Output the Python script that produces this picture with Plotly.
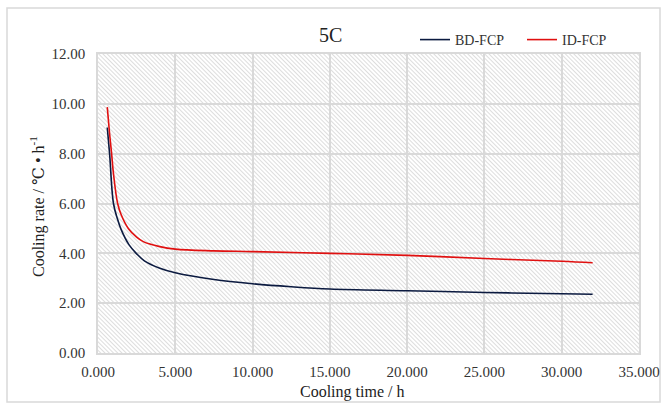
import base64
import plotly.graph_objects as go

# Data
bd_time = [0.6, 0.75, 1.0, 1.25, 1.5, 2.0, 2.5, 3.0, 4.0, 5.0, 7.5, 10.0, 12.5, 15.0, 20.0, 25.0, 30.0, 32.0]
bd_rate = [9.05, 8.0, 6.0, 5.4, 4.95, 4.35, 3.98, 3.70, 3.40, 3.22, 2.95, 2.78, 2.66, 2.57, 2.50, 2.43, 2.38, 2.36]

id_time = [0.6, 0.75, 0.88, 1.0, 1.27, 1.5, 1.96, 2.5, 2.93, 4.0, 5.0, 7.5, 10.0, 15.0, 20.0, 25.0, 30.0, 32.0]
id_rate = [9.87, 8.8, 8.0, 7.2, 6.0, 5.55, 5.0, 4.65, 4.47, 4.27, 4.17, 4.1, 4.07, 4.0, 3.92, 3.79, 3.68, 3.62]

x_range = [0, 35]
y_range = [0, 12]
x_ticks = [0, 5, 10, 15, 20, 25, 30, 35]
x_ticktext = ["0.000", "5.000", "10.000", "15.000", "20.000", "25.000", "30.000", "35.000"]
y_ticks = [0, 2, 4, 6, 8, 10, 12]
y_ticktext = ["0.00", "2.00", "4.00", "6.00", "8.00", "10.00", "12.00"]

FONT = "Liberation Serif, DejaVu Serif, serif"

W, H = 665, 409
L, R, T, B = 98, 26, 54, 56
pw, ph = W - L - R, H - T - B

def px(xp):
    return (xp - L) / pw

def py(yp):
    return (H - B - yp) / ph

# hatch background as an SVG image (drawn below gridlines)
svg = (
    f'<svg xmlns="http://www.w3.org/2000/svg" width="{pw}" height="{ph}">'
    '<defs><pattern id="p" width="3" height="3" patternUnits="userSpaceOnUse" '
    'patternTransform="rotate(-45)">'
    '<line x1="0.5" y1="0" x2="0.5" y2="3" stroke="#d4d4d4" stroke-width="0.8"/>'
    '</pattern></defs>'
    f'<rect width="{pw}" height="{ph}" fill="white"/>'
    f'<rect width="{pw}" height="{ph}" fill="url(#p)"/>'
    '</svg>'
)
svg_uri = "data:image/svg+xml;base64," + base64.b64encode(svg.encode()).decode()

fig = go.Figure()

fig.add_trace(go.Scatter(x=bd_time, y=bd_rate, mode="lines", name="BD-FCP",
                         line=dict(color="#0b1a40", width=1.6, shape="spline", smoothing=1.0)))
fig.add_trace(go.Scatter(x=id_time, y=id_rate, mode="lines", name="ID-FCP",
                         line=dict(color="#e01010", width=1.6, shape="spline", smoothing=1.0)))

fig.update_layout(
    width=W, height=H,
    margin=dict(l=L, r=R, t=T, b=B, autoexpand=False),
    paper_bgcolor="white", plot_bgcolor="rgba(0,0,0,0)",
    font=dict(family=FONT, size=14, color="#333333"),
    showlegend=True,
    legend=dict(orientation="h", x=px(415), y=py(40), xanchor="left", yanchor="middle",
                bgcolor="rgba(0,0,0,0)", font=dict(family=FONT, size=14, color="#333333"),
                itemwidth=30, traceorder="normal", entrywidth=62),
    xaxis=dict(range=x_range, tickvals=x_ticks, ticktext=x_ticktext,
               showgrid=True, gridcolor="#d9d9d9", gridwidth=1.5,
               showline=True, linecolor="#d9d9d9", linewidth=1.5, mirror=True,
               zeroline=False, ticks="", ticklabelstandoff=4,
               tickfont=dict(family=FONT, size=15, color="#333333")),
    yaxis=dict(range=y_range, tickvals=y_ticks, ticktext=y_ticktext,
               showgrid=True, gridcolor="#d9d9d9", gridwidth=1.5,
               showline=True, linecolor="#d9d9d9", linewidth=1.5, mirror=True,
               zeroline=False, ticks="", ticklabelstandoff=8,
               tickfont=dict(family=FONT, size=15, color="#333333")),
    images=[dict(source=svg_uri, xref="x", yref="y", x=x_range[0], y=y_range[1],
                 sizex=x_range[1] - x_range[0], sizey=y_range[1] - y_range[0],
                 sizing="stretch", layer="below", xanchor="left", yanchor="top")],
    shapes=[dict(type="rect", xref="paper", yref="paper",
                 x0=px(7), x1=px(660), y0=py(402), y1=py(8),
                 line=dict(color="#d9d9d9", width=1.5), layer="below")],
    annotations=[
        dict(text="5C", x=px(330), y=py(35), xref="paper", yref="paper",
             xanchor="center", yanchor="middle",
             showarrow=False, font=dict(family=FONT, size=20, color="#222222")),
        dict(text="Cooling time / h", x=px(352), y=py(392), xref="paper", yref="paper",
             xanchor="center", yanchor="middle",
             showarrow=False, font=dict(family=FONT, size=16, color="#222222")),
        dict(text="Cooling rate / ℃ • h<sup>-1</sup>", x=px(37), y=py(207), xref="paper", yref="paper",
             xanchor="center", yanchor="middle",
             showarrow=False, textangle=-90, font=dict(family=FONT, size=16, color="#222222")),
    ],
)

fig.write_html("out.html")
